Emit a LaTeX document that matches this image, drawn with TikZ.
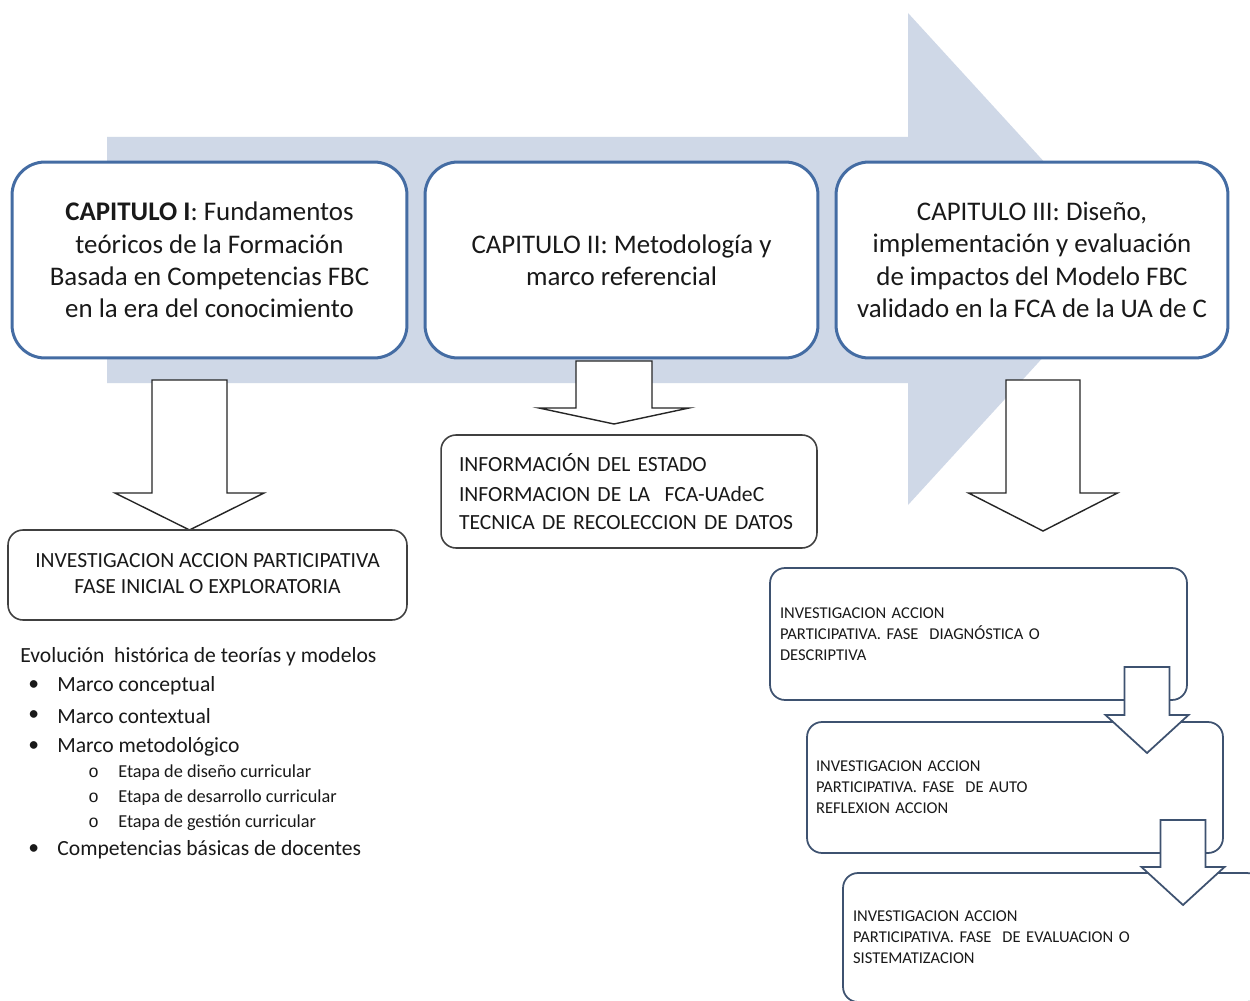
\documentclass[tikz,border=0pt]{standalone}
\usepackage{fontspec}
\setmainfont{Carlito}
\newfontfamily\monofam{Liberation Mono}
\definecolor{bgarrow}{RGB}{207,216,231}
\definecolor{capline}{RGB}{68,108,163}
\definecolor{phaseline}{RGB}{62,82,112}
\definecolor{ink}{RGB}{25,25,25}

% downward block arrow: style, centre x, top y, shaft half width, head base y, head half width, tip y
\newcommand\blockdown[7]{%
  \draw[#1] ({#2-#4},#3) -- ({#2+#4},#3) -- ({#2+#4},#5) -- ({#2+#6},#5)
    -- (#2,#7) -- ({#2-#6},#5) -- ({#2-#4},#5) -- cycle;}

\begin{document}
\begin{tikzpicture}[x=0.02cm,y=-0.02cm,
  capbox/.style={draw=capline, line width=1.7pt, fill=white, rounded corners=0.66cm,
    align=center, font=\fontsize{15.3}{18.4}\selectfont, text=ink, inner sep=0pt},
  infobox/.style={draw=black!75, line width=0.9pt, fill=white, rounded corners=0.3cm,
    text=ink, font=\fontsize{12.3}{16}\selectfont, inner sep=0pt},
  phasebox/.style={draw=phaseline, line width=1pt, fill=white, rounded corners=0.3cm,
    align=left, text=ink, font=\fontsize{9.4}{11.9}\selectfont, inner sep=0pt},
  bigarrow/.style={draw=black!85, line width=0.8pt, fill=white, line join=miter},
  smallarrow/.style={draw=phaseline, line width=1pt, fill=white, line join=miter},
  listtext/.style={anchor=west, text=ink, font=\fontsize{12.3}{14}\selectfont, inner sep=0pt},
  subtext/.style={anchor=west, text=ink, font=\fontsize{10.4}{12}\selectfont, inner sep=0pt}]

\clip (0,0) rectangle (1250,1000);
\fill[white] (0,0) rectangle (1250,1000);

% broad background arrow
\fill[bgarrow] (107,137) -- (908,137) -- (908,13) -- (1133,259) -- (908,505)
  -- (908,383) -- (107,383) -- cycle;

% chapter boxes
\node[capbox, minimum width=7.9cm, minimum height=3.92cm] (cap1) at (209.5,260)
  {\textbf{CAPITULO I}: Fundamentos\\teóricos de la Formación\\Basada en Competencias FBC\\en la era del conocimiento};
\node[capbox, minimum width=7.86cm, minimum height=3.92cm] (cap2) at (621.5,260)
  {CAPITULO II: Metodología y\\marco referencial};
\node[capbox, minimum width=7.84cm, minimum height=3.92cm] (cap3) at (1032,260)
  {CAPITULO III: Diseño,\\implementación y evaluación\\de impactos del Modelo FBC\\validado en la FCA de la UA de C};

% arrows leaving the chapter boxes
\blockdown{bigarrow}{189.5}{380}{37.5}{493}{74.5}{530}
\blockdown{bigarrow}{614}{361}{38}{408}{75}{424}
\blockdown{bigarrow}{1043}{380}{37}{493}{74.5}{531}

% chapter I result
\node[infobox, align=center, minimum width=7.98cm, minimum height=1.8cm] (fase1) at (207.5,575)
  {\raisebox{5pt}{\begin{tabular}{@{}c@{}}INVESTIGACION ACCION PARTICIPATIVA\\[-1pt]FASE INICIAL O EXPLORATORIA\end{tabular}}};

% chapter II result
\node[infobox, align=left, text width=6.8cm, inner xsep=0.36cm, minimum width=7.52cm, minimum height=2.26cm] (info) at (629,491.5)
  {\raisebox{1pt}{INFORMACIÓN DEL ESTADO}\\INFORMACION DE LA \ FCA-UAdeC\\TECNICA DE RECOLECCION DE DATOS};

% chapter I contents
\node[listtext] (evo) at (20,657) {Evolución \ histórica de teorías y modelos};
\node[listtext] (b1) at (28,686) {•};
\node[listtext] (i1) at (57,686) {Marco conceptual};
\node[listtext] (b2) at (28,716) {•};
\node[listtext] (i2) at (57,716) {Marco contextual};
\node[listtext] (b3) at (28,747) {•};
\node[listtext] (i3) at (57,747) {Marco metodológico};
\node[subtext] (s1b) at (88,773) {\monofam\fontsize{10}{12}\selectfont o};
\node[subtext] (s1) at (118,773) {Etapa de diseño curricular};
\node[subtext] (s2b) at (88,798) {\monofam\fontsize{10}{12}\selectfont o};
\node[subtext] (s2) at (118,798) {Etapa de desarrollo curricular};
\node[subtext] (s3b) at (88,823) {\monofam\fontsize{10}{12}\selectfont o};
\node[subtext] (s3) at (118,823) {Etapa de gestión curricular};
\node[listtext] (b4) at (28,850) {•};
\node[listtext] (i4) at (57,850) {Competencias básicas de docentes};

% chapter III phases
\node[phasebox, text width=7.94cm, inner xsep=0.2cm, minimum width=8.34cm, minimum height=2.64cm] (ph1) at (978.5,634)
  {INVESTIGACION ACCION\\PARTICIPATIVA. FASE \ DIAGNÓSTICA O\\DESCRIPTIVA};
\node[phasebox, text width=7.96cm, inner xsep=0.18cm, minimum width=8.32cm, minimum height=2.62cm] (ph2) at (1015,787.5)
  {INVESTIGACION ACCION\\PARTICIPATIVA. FASE \ DE AUTO\\REFLEXION ACCION};
\blockdown{smallarrow}{1147}{667}{22.5}{715}{41.5}{753}
\node[phasebox, text width=7.98cm, inner xsep=0.2cm, minimum width=8.38cm, minimum height=2.58cm] (ph3) at (1052.5,937.5)
  {INVESTIGACION ACCION\\PARTICIPATIVA. FASE \ DE EVALUACION O\\SISTEMATIZACION};
\blockdown{smallarrow}{1183}{820}{22.5}{867}{41.5}{905}
\end{tikzpicture}
\end{document}
